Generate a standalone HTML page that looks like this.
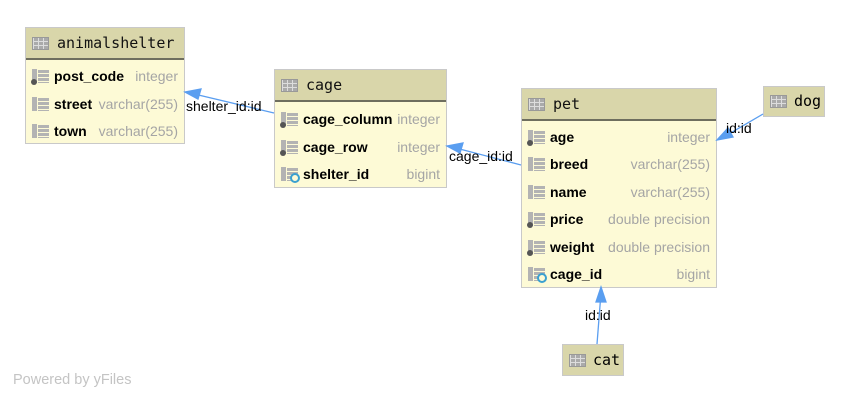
<!DOCTYPE html>
<html><head><meta charset="utf-8"><style>
body{margin:0;width:850px;height:401px;background:#fff;position:relative;overflow:hidden;font-family:"Liberation Sans",sans-serif}
.t{position:absolute;border:1px solid #c9c9c9;background:#fdfad6;box-sizing:border-box}
.h{height:32px;background:#d9d6aa;border-bottom:2px solid #6e6e5e;box-sizing:border-box;position:relative}
.h span{position:absolute;left:31px;top:6px;font-family:"DejaVu Sans Mono",monospace;font-size:15px;color:#111}
.ic{position:absolute;left:6px;top:9px;width:17px;height:13px;background:#aaa;border:1px solid #999;box-sizing:border-box;
background-image:linear-gradient(#ddd 1px,transparent 1px),linear-gradient(90deg,#ddd 1px,transparent 1px);background-size:5px 4px;background-position:0 3px}
.r{position:absolute;left:0;right:0;height:22px;font-size:14px;line-height:22px}
.r b{position:absolute;left:28px;color:#000}
.r i{font-style:normal;position:absolute;right:6px;color:#a5a5a5}
.fi{position:absolute;left:6px;top:4px;width:17px;height:14px;background:#b3b3b3;
background-image:linear-gradient(90deg,#b3b3b3 5px,#fdfad6 5px,#fdfad6 6px,transparent 6px),linear-gradient(#fdfad6 1px,transparent 1px);background-size:17px 14px,17px 4px}
.dot{position:absolute;left:5px;top:14px;width:6px;height:6px;border-radius:50%;background:#555}
.key{position:absolute;left:15px;top:10px;width:6px;height:6px;border-radius:50%;border:2px solid #3aa0d0;background:#fdfad6}
.lbl{position:absolute;font-size:14px;color:#000}
</style></head><body>

<div class="t" style="left:25px;top:27px;width:160px;height:117px">
<div class="h"><div class="ic"></div><span>animalshelter</span></div>
<div class="r" style="top:37px"><div class="fi"></div><div class="dot"></div><b>post_code</b><i>integer</i></div>
<div class="r" style="top:65px"><div class="fi"></div><b>street</b><i>varchar(255)</i></div>
<div class="r" style="top:92px"><div class="fi"></div><b>town</b><i>varchar(255)</i></div>
</div>

<div class="t" style="left:274px;top:69px;width:173px;height:119px">
<div class="h"><div class="ic"></div><span>cage</span></div>
<div class="r" style="top:38px"><div class="fi"></div><div class="dot"></div><b>cage_column</b><i>integer</i></div>
<div class="r" style="top:66px"><div class="fi"></div><div class="dot"></div><b>cage_row</b><i>integer</i></div>
<div class="r" style="top:93px"><div class="fi"></div><div class="key"></div><b>shelter_id</b><i>bigint</i></div>
</div>

<div class="t" style="left:521px;top:88px;width:196px;height:200px">
<div class="h"><div class="ic"></div><span>pet</span></div>
<div class="r" style="top:37px"><div class="fi"></div><div class="dot"></div><b>age</b><i>integer</i></div>
<div class="r" style="top:64px"><div class="fi"></div><b>breed</b><i>varchar(255)</i></div>
<div class="r" style="top:92px"><div class="fi"></div><b>name</b><i>varchar(255)</i></div>
<div class="r" style="top:119px"><div class="fi"></div><div class="dot"></div><b>price</b><i>double precision</i></div>
<div class="r" style="top:147px"><div class="fi"></div><div class="dot"></div><b>weight</b><i>double precision</i></div>
<div class="r" style="top:174px"><div class="fi"></div><div class="key"></div><b>cage_id</b><i>bigint</i></div>
</div>

<div class="t" style="left:763px;top:86px;width:62px;height:31px;background:#d9d6aa">
<div class="ic" style="top:8px"></div><span style="position:absolute;left:30px;top:5px;font-family:'DejaVu Sans Mono',monospace;font-size:15px">dog</span></div>
<div class="t" style="left:562px;top:344px;width:62px;height:32px;background:#d9d6aa">
<div class="ic" style="top:9px"></div><span style="position:absolute;left:30px;top:6px;font-family:'DejaVu Sans Mono',monospace;font-size:15px">cat</span></div>

<svg width="850" height="401" style="position:absolute;left:0;top:0">
<g stroke="#5a9ef0" stroke-width="1.3" fill="#5a9ef0">
<line x1="274" y1="113" x2="190" y2="93"/><polygon points="185,92 201,89 198,99"/>
<line x1="521" y1="165" x2="452" y2="147"/><polygon points="447,146 463,143 460,153"/>
<line x1="763" y1="114" x2="722" y2="138"/><polygon points="717,140 728,128 733,137"/>
<line x1="597" y1="344" x2="601" y2="293"/><polygon points="601,287 606,302 596,302"/>
</g></svg>
<div class="lbl" style="left:186px;top:98px">shelter_id:id</div>
<div class="lbl" style="left:449px;top:148px">cage_id:id</div>
<div class="lbl" style="left:726px;top:120px">id:id</div>
<div class="lbl" style="left:585px;top:307px">id:id</div>
<div style="position:absolute;left:13px;top:372px;font-size:14.5px;color:#c4c4c4">Powered by yFiles</div>
</body></html>
